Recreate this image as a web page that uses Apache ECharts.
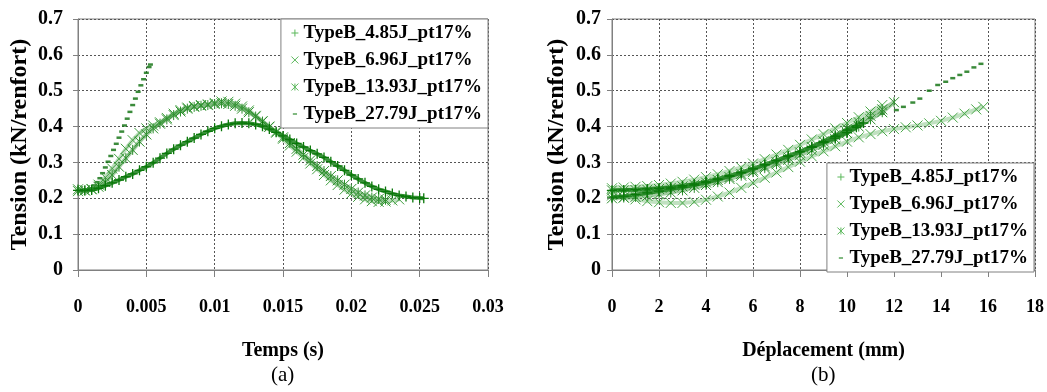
<!DOCTYPE html>
<html><head><meta charset="utf-8">
<script src="https://cdn.jsdelivr.net/npm/echarts@6/dist/echarts.min.js"></script>
<style>html,body{margin:0;padding:0;background:#fff}#c{width:1047px;height:392px}</style>
</head><body><div id="c"></div>
<script>
// ---------- names ----------
const names = ['TypeB_4.85J_pt17%', 'TypeB_6.96J_pt17%', 'TypeB_13.93J_pt17%', 'TypeB_27.79J_pt17%'];

// ---------- (a) Tension vs Temps ----------
const tA_485 = [0,0.0005,0.001,0.0015,0.002,0.0025,0.003,0.0035,0.004,0.0045,0.005,0.0055,0.006,0.0065,0.007,0.0075,0.008,0.0085,0.009,0.0095,0.01,0.0105,0.011,0.0115,0.012,0.0125,0.013,0.0135,0.014,0.0145,0.015,0.0155,0.016,0.0165,0.017,0.0175,0.018,0.0185,0.019,0.0195,0.02,0.0205,0.021,0.0215,0.022,0.0225,0.023,0.0235,0.024,0.0245,0.025,0.0253];
const fA_485 = [0.222,0.222,0.223,0.228,0.235,0.243,0.251,0.26,0.268,0.278,0.288,0.299,0.312,0.325,0.337,0.348,0.358,0.368,0.378,0.387,0.395,0.401,0.406,0.409,0.41,0.409,0.406,0.401,0.393,0.384,0.374,0.364,0.353,0.343,0.333,0.324,0.314,0.302,0.29,0.278,0.265,0.254,0.243,0.233,0.225,0.219,0.213,0.208,0.205,0.202,0.201,0.2];

const tA_696 = [0,0.0005,0.001,0.0015,0.002,0.0025,0.003,0.0035,0.004,0.0045,0.005,0.0055,0.006,0.0065,0.007,0.0075,0.008,0.0085,0.009,0.0095,0.01,0.0105,0.011,0.0115,0.012,0.0125,0.013,0.0135,0.014,0.0145,0.015,0.0155,0.016,0.0165,0.017,0.0175,0.018,0.0185,0.019,0.0195,0.02,0.0205,0.021,0.0215,0.022,0.0225,0.023,0.0235];
const fA_696 = [0.22,0.222,0.226,0.238,0.258,0.283,0.31,0.338,0.362,0.382,0.395,0.403,0.412,0.424,0.436,0.446,0.453,0.457,0.46,0.462,0.466,0.47,0.469,0.464,0.456,0.445,0.43,0.415,0.399,0.383,0.366,0.347,0.33,0.313,0.297,0.281,0.265,0.25,0.237,0.224,0.213,0.204,0.197,0.192,0.19,0.191,0.194,0.197];

const tA_1393 = [0,0.0005,0.001,0.0015,0.002,0.0025,0.003,0.0035,0.004,0.0045,0.005,0.0055,0.006,0.0065,0.007,0.0075,0.008,0.0085,0.009,0.0095,0.01,0.0105,0.011,0.0115,0.012,0.0125,0.013,0.0135,0.014,0.0145,0.015,0.0155,0.016,0.0165,0.017,0.0175,0.018,0.0185,0.019,0.0195,0.02,0.0205,0.021,0.0215,0.022,0.0225];
const fA_1393 = [0.225,0.222,0.225,0.232,0.245,0.265,0.288,0.312,0.335,0.358,0.378,0.395,0.408,0.42,0.432,0.442,0.45,0.455,0.458,0.46,0.463,0.465,0.463,0.458,0.45,0.44,0.428,0.414,0.4,0.386,0.37,0.354,0.338,0.322,0.306,0.29,0.276,0.262,0.25,0.238,0.226,0.216,0.208,0.202,0.198,0.196];

const tA_2779 = [0,0.0003,0.0006,0.0009,0.0012,0.0014,0.0016,0.0018,0.002,0.0022,0.0024,0.0026,0.0028,0.003,0.0032,0.0034,0.0036,0.0038,0.004,0.0042,0.0044,0.0046,0.0048,0.005,0.0052,0.0053];
const fA_2779 = [0.222,0.222,0.224,0.228,0.236,0.245,0.256,0.27,0.286,0.302,0.318,0.335,0.352,0.369,0.386,0.403,0.422,0.441,0.46,0.478,0.497,0.515,0.532,0.55,0.566,0.573];

// ---------- (b) Tension vs Deplacement ----------
const dB_485 = [0,0.5,1,1.5,2,2.5,3,3.5,4,4.5,5,5.5,6,6.5,7,7.5,8,8.5,9,9.5,10,10.4,10.7,10.4,10,9.5,9,8.5,8,7.5,7,6.5,6,5.5,5,4.5,4,3.5,3,2.5,2,1.5,1,0.5,0];
const fB_485 = [0.222,0.223,0.224,0.226,0.228,0.231,0.235,0.24,0.246,0.254,0.263,0.272,0.283,0.294,0.306,0.318,0.33,0.342,0.355,0.368,0.383,0.398,0.41,0.402,0.39,0.373,0.358,0.344,0.33,0.317,0.305,0.293,0.282,0.271,0.261,0.252,0.244,0.237,0.231,0.226,0.22,0.215,0.21,0.206,0.203];

const dB_696_load = [0,0.5,1,1.5,2,2.5,3,3.5,4,4.5,5,5.5,6,6.5,7,7.5,8,8.5,9,9.5,10,10.5,11,11.5];
const fB_696_load = [0.228,0.23,0.232,0.234,0.237,0.241,0.246,0.252,0.259,0.267,0.276,0.286,0.297,0.309,0.322,0.335,0.349,0.364,0.379,0.395,0.41,0.426,0.442,0.46];
const dB_696_unload = [15.8,15.5,15,14.5,14,13.5,13,12.5,12,11.5,11,10.5,10,9.5,9,8.5,8,7.5,7,6.5,6,5.5,5,4.5,4,3.5,3,2.5,2,1.5,1,0.5,0];
const fB_696_unload = [0.455,0.448,0.436,0.425,0.416,0.409,0.403,0.398,0.393,0.387,0.379,0.37,0.358,0.345,0.331,0.317,0.302,0.287,0.272,0.257,0.243,0.229,0.216,0.205,0.196,0.19,0.187,0.187,0.189,0.192,0.197,0.202,0.208];

const dB_1393 = [0,0.5,1,1.5,2,2.5,3,3.5,4,4.5,5,5.5,6,6.5,7,7.5,8,8.5,9,9.5,10,10.5,11,11.5,12,11.5,11,10.5,10,9.5,9,8.5,8,7.5,7,6.5,6,5.5,5,4.5,4,3.5,3,2.5,2,1.5,1,0.5,0];
const fB_1393 = [0.222,0.222,0.223,0.224,0.226,0.229,0.233,0.238,0.244,0.251,0.259,0.268,0.278,0.289,0.301,0.314,0.328,0.343,0.359,0.376,0.394,0.412,0.43,0.448,0.468,0.44,0.42,0.4,0.382,0.365,0.349,0.334,0.32,0.307,0.295,0.284,0.273,0.263,0.254,0.245,0.237,0.229,0.222,0.216,0.211,0.207,0.204,0.202,0.2];

const dB_2779 = [0,0.5,1,1.5,2,2.5,3,3.5,4,4.5,5,5.5,6,6.5,7,7.5,8,8.5,9,9.5,10,10.5,11,11.5,12.1,12.4,12.8,13.1,13.5,13.86,14.2,14.5,14.8,15.1,15.4,15.7];
const fB_2779 = [0.222,0.222,0.223,0.225,0.227,0.23,0.234,0.239,0.245,0.252,0.26,0.27,0.28,0.291,0.303,0.316,0.33,0.345,0.36,0.376,0.392,0.408,0.424,0.436,0.446,0.455,0.467,0.478,0.5,0.516,0.525,0.535,0.544,0.553,0.565,0.575];

// ---------- axis ticks ----------
const yTicks = {min: 0, max: 0.7, step: 0.1};
const xTicksA = {min: 0, max: 0.03, step: 0.005};
const xTicksB = {min: 0, max: 18, step: 2};

const SERIF = "'Liberation Serif','Times New Roman',serif";
const GREEN = '#0a780a';
const sym = {
  plus: 'path://M0,5L10,5M5,0L5,10',
  cross: 'path://M0,0L10,10M10,0L0,10',
  star: 'path://M0,0L10,10M10,0L0,10M5,0L5,10',
  dash: 'path://M0,0L10,0M2,4L8,4L8,6L2,6ZM0,10L10,10'
};
const pair = (xs, ys) => xs.map((x, i) => [x, ys[i]]);

function markerSeries(name, xs, ys, gi, symbol, color, size, lw, lineW, lineOp) {
  return {
    name, type: 'line', xAxisIndex: gi, yAxisIndex: gi,
    data: pair(xs, ys), symbol, symbolSize: size, showSymbol: true,
    smooth: false, animation: false,
    itemStyle: {color: color, borderColor: color, borderWidth: lw},
    lineStyle: {color: color, width: lineW, opacity: lineOp},
    emphasis: {disabled: true}
  };
}
function dashSeries(name, xs, ys, gi) {
  return {
    name, type: 'scatter', xAxisIndex: gi, yAxisIndex: gi,
    data: pair(xs, ys), symbol: 'rect', symbolSize: [5, 2.5],
    itemStyle: {color: '#0a6e0a'}, animation: false, emphasis: {disabled: true}
  };
}

function xAxis(gi, t, name) {
  return {
    type: 'value', gridIndex: gi, min: t.min, max: t.max, interval: t.step,
    axisLine: {show: true, lineStyle: {color: '#808080', width: 1}},
    axisTick: {show: true, length: 7, lineStyle: {color: '#808080'}},
    splitLine: {show: true, lineStyle: {color: '#555', type: [2, 2], width: 1}},
    axisLabel: {fontFamily: SERIF, fontWeight: 'bold', fontSize: 18, color: '#000', margin: 28},
    name, nameLocation: 'middle', nameGap: 71,
    nameTextStyle: {fontFamily: SERIF, fontWeight: 'bold', fontSize: 20, color: '#000'}
  };
}
function yAxis(gi, margin, gap) {
  return {
    type: 'value', gridIndex: gi, min: yTicks.min, max: yTicks.max, interval: yTicks.step,
    axisLine: {show: true, lineStyle: {color: '#808080', width: 1}},
    axisTick: {show: true, length: 5, lineStyle: {color: '#808080'}},
    splitLine: {show: true, lineStyle: {color: '#555', type: [2, 2], width: 1}},
    axisLabel: {fontFamily: SERIF, fontWeight: 'bold', fontSize: 20, color: '#000', margin},
    name: 'Tension (kN/renfort)', nameLocation: 'middle', nameRotate: 90, nameGap: gap,
    nameTextStyle: {fontFamily: SERIF, fontWeight: 'bold', fontSize: 24, color: '#000'}
  };
}

const LEG_GREEN = '#5bb85b';
function legend(pos) {
  return Object.assign({
    orient: 'vertical', backgroundColor: '#fff', borderColor: '#808080', borderWidth: 1,
    padding: [4, 6, 4, 10], itemGap: 7, itemWidth: 7, itemHeight: 7,
    textStyle: {fontFamily: SERIF, fontWeight: 'bold', fontSize: 19, color: '#000', lineHeight: 20},
    data: [
      {name: names[0], icon: sym.plus, itemStyle: {color: LEG_GREEN, borderColor: LEG_GREEN, borderWidth: 1}},
      {name: names[1], icon: sym.cross, itemStyle: {color: LEG_GREEN, borderColor: LEG_GREEN, borderWidth: 1}},
      {name: names[2], icon: sym.star, itemStyle: {color: LEG_GREEN, borderColor: LEG_GREEN, borderWidth: 1}},
      {name: names[3], icon: sym.dash, itemStyle: {color: '#2e8b2e', borderColor: 'transparent', borderWidth: 0}}
    ],
    selectedMode: false, z: 10
  }, pos);
}

const chart = echarts.init(document.getElementById('c'), null, {renderer: 'canvas'});
chart.setOption({
  backgroundColor: '#fff',
  animation: false,
  grid: [
    {left: 78, top: 19, width: 410, height: 251, show: true, borderColor: '#808080', borderWidth: 1, containLabel: false},
    {left: 612, top: 19, width: 423, height: 251, show: true, borderColor: '#808080', borderWidth: 1, containLabel: false}
  ],
  xAxis: [xAxis(0, xTicksA, 'Temps (s)'), xAxis(1, xTicksB, 'Déplacement (mm)')],
  yAxis: [yAxis(0, 15, 46), yAxis(1, 11, 43)],
  legend: [
    legend({right: 559, top: 19}),
    legend({right: 13, top: 163})
  ],
  graphic: [
    {type: 'text', left: 271, top: 365, style: {text: '(a)', font: "21px 'Liberation Serif'", fill: '#000'}},
    {type: 'text', left: 811, top: 365, style: {text: '(b)', font: "21px 'Liberation Serif'", fill: '#000'}}
  ],
  series: [
    dashSeries(names[3], tA_2779, fA_2779, 0),
    markerSeries(names[1], tA_696, fA_696, 0, sym.cross, '#3f9f3f', 10, 1, 4, 0.35),
    markerSeries(names[2], tA_1393, fA_1393, 0, sym.star, '#2f8f2f', 10, 1, 4, 0.45),
    markerSeries(names[0], tA_485, fA_485, 0, sym.plus, GREEN, 10, 1.3, 4, 0.8),

    dashSeries(names[3], dB_2779, fB_2779, 1),
    markerSeries(names[1], dB_696_load, fB_696_load, 1, sym.cross, '#4aa84a', 10, 1, 4, 0.35),
    markerSeries(names[1], dB_696_unload, fB_696_unload, 1, sym.cross, '#4aa84a', 10, 1, 4, 0.35),
    markerSeries(names[2], dB_1393, fB_1393, 1, sym.star, '#2f8f2f', 10, 1, 4, 0.45),
    markerSeries(names[0], dB_485, fB_485, 1, sym.plus, GREEN, 10, 1.3, 4, 0.8)
  ]
});
</script>
</body></html>
